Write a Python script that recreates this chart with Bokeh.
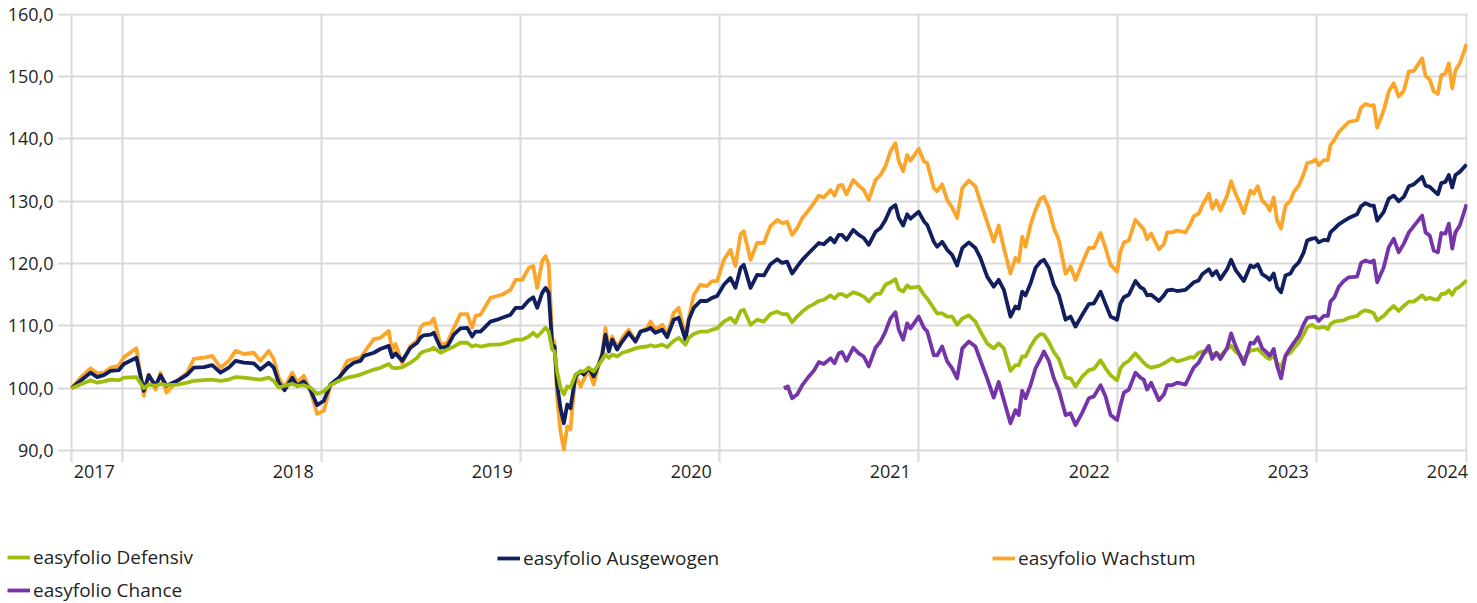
from bokeh.plotting import figure
from bokeh.layouts import column
from bokeh.models import Range1d, FixedTicker, Legend, LegendItem, ColumnDataSource
from bokeh.embed import file_html
from bokeh.resources import INLINE

# ---------------- data (decimal years, index values) ----------------
dates = [
    2017.744, 2017.789, 2017.839, 2017.873, 2017.906, 2017.940, 2017.981,
    2018.007, 2018.070, 2018.107, 2018.132, 2018.166, 2018.191, 2018.221, 2018.275, 2018.325,
    2018.358, 2018.409, 2018.451, 2018.492, 2018.534, 2018.568, 2018.610, 2018.660, 2018.693,
    2018.735, 2018.760, 2018.785, 2018.814, 2018.853, 2018.878, 2018.911, 2018.945, 2018.978,
    2019.012, 2019.045, 2019.087, 2019.129, 2019.162, 2019.196, 2019.213, 2019.263, 2019.296,
    2019.338, 2019.355, 2019.372, 2019.406, 2019.447, 2019.481, 2019.497,
    2019.514, 2019.548, 2019.564, 2019.598, 2019.632, 2019.665, 2019.698, 2019.732, 2019.757,
    2019.774, 2019.799, 2019.849, 2019.883, 2019.908, 2019.950, 2019.975,
    2020.009, 2020.042, 2020.064, 2020.084, 2020.109, 2020.126, 2020.142, 2020.159, 2020.171,
    2020.184, 2020.201, 2020.218, 2020.235, 2020.251, 2020.276, 2020.302, 2020.318, 2020.343,
    2020.368, 2020.393, 2020.411, 2020.427, 2020.444, 2020.461, 2020.486, 2020.511, 2020.544,
    2020.578, 2020.603, 2020.637, 2020.653, 2020.678, 2020.712, 2020.737, 2020.770, 2020.795,
    2020.829, 2020.846, 2020.871, 2020.904, 2020.938, 2020.963, 2020.988,
    2021.022, 2021.055, 2021.080, 2021.106, 2021.122, 2021.156, 2021.189, 2021.223, 2021.256,
    2021.290, 2021.315, 2021.340, 2021.365, 2021.390, 2021.416, 2021.449, 2021.474, 2021.499,
    2021.524, 2021.558, 2021.578, 2021.599, 2021.616, 2021.638, 2021.672, 2021.700, 2021.725,
    2021.750, 2021.784, 2021.809, 2021.834, 2021.859, 2021.884, 2021.901, 2021.923, 2021.943,
    2021.960,
    2022.001, 2022.027, 2022.044, 2022.077, 2022.094, 2022.119, 2022.144, 2022.169, 2022.194,
    2022.220, 2022.253, 2022.286, 2022.311, 2022.345, 2022.378, 2022.403, 2022.429, 2022.462,
    2022.487, 2022.504, 2022.521, 2022.538, 2022.563, 2022.588, 2022.613, 2022.630, 2022.655,
    2022.680, 2022.705, 2022.739, 2022.764, 2022.789, 2022.823, 2022.856, 2022.881, 2022.915,
    2022.940, 2022.965, 2022.998,
    2023.015, 2023.032, 2023.057, 2023.090, 2023.115, 2023.132, 2023.149, 2023.169, 2023.208,
    2023.233, 2023.250, 2023.275, 2023.300, 2023.342, 2023.367, 2023.383, 2023.408, 2023.426,
    2023.459, 2023.476, 2023.497, 2023.517, 2023.551, 2023.571, 2023.593, 2023.609, 2023.635,
    2023.668, 2023.685, 2023.705, 2023.727, 2023.752, 2023.765, 2023.785, 2023.802, 2023.822,
    2023.844, 2023.869, 2023.886, 2023.911, 2023.936, 2023.953, 2023.978, 2023.995,
    2024.011, 2024.037, 2024.057, 2024.070, 2024.090, 2024.112, 2024.137, 2024.162, 2024.204,
    2024.224, 2024.246, 2024.271, 2024.288, 2024.305, 2024.338, 2024.363, 2024.388, 2024.413,
    2024.439, 2024.464, 2024.489, 2024.531, 2024.548, 2024.569, 2024.589, 2024.610, 2024.627,
    2024.648, 2024.665, 2024.682, 2024.698, 2024.720, 2024.754,
]

wachstum = [
    100.0, 101.7, 103.2, 102.4, 102.5, 103.3, 103.6, 105.0, 106.4, 98.8, 102.2, 99.8, 102.5, 99.3,
    101.2, 102.5, 104.7, 104.9, 105.2, 103.3, 104.4, 106.0, 105.5, 105.7, 104.4, 106.0, 104.7,
    101.7, 100.1, 102.5, 100.9, 102.0, 99.6, 95.9, 96.4, 100.4, 101.4, 104.4, 104.7, 104.9, 105.7,
    107.9, 108.1, 109.2, 106.0, 107.1, 104.0, 106.8, 107.6, 109.7,
    110.3, 110.5, 111.2, 107.0, 107.3, 109.7, 111.9, 111.9, 109.7, 111.6, 111.8, 114.5, 114.8,
    115.0, 115.8, 117.4, 117.4, 119.3, 119.6, 116.1, 120.4, 121.2, 119.8, 108.1, 107.3, 98.4,
    93.1, 90.2, 93.9, 93.4, 102.2, 100.3, 101.4, 103.0, 100.6, 103.8, 105.7, 109.7, 106.2, 108.3,
    106.5, 108.1, 109.4, 107.5, 109.1, 109.7, 110.7, 109.4, 110.2, 108.6, 112.1, 112.9, 108.3,
    111.3, 115.0, 116.6, 116.4, 117.2, 117.2, 120.6, 122.2, 119.6, 124.7, 125.2, 120.6, 123.3,
    123.3, 126.0,
    127.0, 126.5, 126.7, 124.6, 125.7, 127.3, 128.6, 129.7, 130.9, 130.6, 131.8, 130.9, 132.5,
    132.6, 131.1, 133.4, 132.5, 131.8, 130.2, 133.4, 134.2, 135.6, 138.0, 139.3, 136.4, 134.8,
    137.4, 136.5,
    138.4, 136.4, 136.1, 132.1, 131.6, 132.7, 130.2, 129.0, 127.3, 132.1, 133.3, 132.4, 129.9,
    126.7, 123.5, 126.1, 122.5, 118.4, 120.9, 120.3, 124.3, 122.7, 126.2, 128.6, 130.4, 130.7,
    128.9, 125.7, 123.8, 118.4, 119.5, 117.4, 120.1, 122.5, 122.5, 124.9, 122.5, 119.8, 118.7,
    121.9,
    123.4, 123.7, 127.0, 126.1, 125.5, 123.9, 124.8, 122.3, 123.1, 125.0, 125.0, 125.3, 125.0,
    126.4, 127.6, 128.0, 129.3, 131.2, 128.8, 130.1, 128.5, 130.9, 133.2, 131.2, 130.1, 128.1,
    131.7, 131.2, 132.4, 130.1, 129.3, 128.5, 130.6, 126.9, 125.6, 129.3, 130.1, 131.5, 132.5,
    134.4, 136.1, 136.3, 136.7,
    135.8, 136.6, 136.6, 139.0, 139.8, 141.1, 141.9, 142.7, 143.0, 145.0, 145.6, 145.3, 145.4,
    141.8, 144.6, 147.6, 148.9, 146.8, 147.7, 150.8, 150.9, 152.9, 150.1, 149.5, 147.6, 147.2,
    150.2, 150.5, 152.1, 148.1, 151.0, 152.1, 155.2,
]

ausgewogen = [
    100.0, 101.2, 102.5, 101.8, 102.1, 102.8, 102.9, 103.9, 104.9, 99.6, 102.1, 100.4, 102.1, 100.4,
    101.2, 102.2, 103.3, 103.4, 103.7, 102.5, 103.3, 104.4, 104.1, 104.0, 103.0, 104.1, 103.3,
    100.9, 99.7, 101.7, 100.4, 101.1, 99.7, 97.3, 98.0, 100.6, 101.7, 103.3, 104.1, 104.4, 105.2,
    105.7, 106.3, 106.8, 105.0, 105.6, 104.4, 106.5, 107.3, 108.1,
    108.5, 108.6, 108.9, 106.5, 106.7, 108.6, 109.6, 109.7, 108.3, 109.1, 109.1, 110.7, 111.0,
    111.3, 111.8, 112.9, 112.9, 114.1, 114.6, 112.9, 115.3, 116.1, 115.3, 107.0, 106.7, 100.6,
    96.8, 94.4, 97.4, 96.8, 101.9, 102.7, 102.2, 103.3, 101.9, 103.8, 105.4, 108.6, 105.9, 107.8,
    106.2, 107.5, 108.9, 107.5, 109.1, 109.4, 109.7, 108.9, 109.4, 108.2, 111.0, 111.3, 107.8,
    111.0, 112.9, 114.0, 114.0, 114.5, 114.8, 116.6, 117.7, 116.1, 119.3, 119.8, 116.1, 118.2,
    118.1, 119.9,
    120.7, 120.1, 120.3, 118.4, 119.5, 120.6, 121.7, 122.5, 123.3, 123.1, 124.1, 123.4, 124.6,
    124.6, 123.8, 125.4, 124.6, 124.1, 123.0, 125.1, 125.7, 127.0, 128.8, 129.4, 127.3, 126.1,
    127.9, 127.2,
    128.3, 126.8, 126.2, 123.5, 122.7, 123.5, 122.2, 121.4, 119.7, 122.5, 123.4, 122.5, 120.9,
    117.9, 116.3, 117.4, 115.8, 111.5, 113.1, 112.8, 115.5, 114.9, 116.8, 119.3, 120.3, 120.6,
    119.3, 116.6, 115.0, 111.0, 111.5, 109.9, 111.8, 113.5, 113.6, 115.5, 113.5, 111.5, 111.0,
    113.6,
    114.6, 115.0, 117.2, 116.2, 115.9, 114.9, 115.0, 114.0, 114.9, 115.7, 115.8, 115.6, 115.8,
    116.5, 117.0, 117.3, 118.3, 119.1, 118.1, 118.8, 117.5, 119.1, 120.6, 119.0, 118.3, 117.2,
    119.7, 119.4, 119.9, 118.3, 117.8, 117.4, 118.4, 116.2, 115.4, 118.1, 118.4, 119.4, 120.2,
    121.8, 123.7, 124.0, 124.1,
    123.4, 123.8, 123.7, 125.0, 125.6, 126.3, 126.8, 127.3, 127.9, 129.2, 129.7, 129.3, 129.3,
    126.9, 128.3, 130.4, 130.9, 130.0, 130.7, 132.4, 132.7, 133.9, 132.5, 132.3, 131.7, 131.1,
    132.9, 133.1, 134.2, 132.2, 134.2, 134.7, 135.9,
]

defensiv = [
    100.0, 100.6, 101.3, 100.9, 101.1, 101.4, 101.3, 101.7, 101.8, 100.0, 100.6, 100.4, 100.7, 100.5,
    100.6, 100.9, 101.2, 101.3, 101.4, 101.2, 101.4, 101.8, 101.7, 101.5, 101.4, 101.7, 101.2,
    100.1, 100.4, 100.7, 100.4, 100.5, 100.1, 99.1, 99.5, 100.5, 101.2, 101.7, 101.9, 102.2, 102.4,
    103.0, 103.3, 103.9, 103.3, 103.2, 103.4, 104.1, 104.9, 105.6,
    105.9, 106.2, 106.5, 105.7, 106.2, 106.7, 107.3, 107.3, 106.7, 106.9, 106.7, 107.0, 107.0,
    107.1, 107.5, 107.8, 107.8, 108.3, 108.9, 108.3, 109.1, 109.7, 109.1, 106.2, 105.9, 102.7,
    100.1, 99.0, 100.3, 100.1, 102.2, 102.7, 102.7, 103.3, 102.7, 103.8, 104.6, 105.4, 104.9, 105.4,
    105.1, 105.7, 106.0, 106.4, 106.6, 106.7, 106.9, 106.7, 107.0, 106.6, 107.6, 108.1, 107.0,
    108.1, 108.7, 109.1, 109.1, 109.4, 109.6, 110.7, 111.3, 110.5, 112.4, 112.6, 110.2, 111.0,
    110.7, 111.9,
    112.3, 111.9, 111.9, 110.6, 111.5, 112.3, 113.1, 113.5, 114.0, 114.2, 114.9, 114.4, 115.1,
    115.1, 114.7, 115.4, 115.1, 114.7, 113.9, 115.1, 115.2, 116.6, 117.0, 117.5, 115.9, 115.5,
    116.5, 116.1,
    116.3, 115.0, 114.4, 112.8, 112.0, 112.0, 111.5, 111.5, 110.2, 111.2, 111.7, 110.7, 109.1,
    107.2, 106.4, 107.2, 106.4, 102.8, 103.7, 103.7, 105.1, 105.1, 106.7, 108.0, 108.7, 108.6,
    107.4, 105.8, 104.7, 101.7, 101.6, 100.3, 101.9, 102.9, 103.1, 104.5, 103.2, 102.1, 101.3,
    103.2,
    103.9, 104.4, 105.6, 104.7, 104.1, 103.6, 103.3, 103.6, 104.0, 104.3, 104.8, 104.3, 104.7,
    105.0, 104.9, 105.7, 105.9, 105.9, 105.4, 105.7, 105.2, 106.3, 106.8, 105.9, 105.5, 104.7,
    106.1, 106.1, 106.3, 105.6, 104.9, 104.7, 105.2, 104.1, 103.4, 105.2, 105.7, 106.4, 107.3,
    108.7, 109.8, 110.2, 109.8,
    109.7, 109.9, 109.5, 110.3, 110.7, 110.8, 110.9, 111.3, 111.6, 112.2, 112.5, 112.3, 112.0,
    110.9, 111.6, 112.5, 113.2, 112.4, 113.2, 113.9, 113.9, 114.9, 114.3, 114.5, 114.3, 114.2,
    115.1, 115.2, 115.7, 115.0, 115.9, 116.3, 117.3,
]

chance_dates = [2021.323, 2021.343] + dates[dates.index(2021.365):]
chance = [
    100.0, 100.3, 98.4, 99.0, 100.5, 101.9, 102.8, 104.2, 103.9, 104.8, 104.0, 105.6, 105.8,
    104.4, 106.5, 105.6, 105.1, 103.5, 106.5, 107.5, 109.1, 111.2, 112.2, 109.4, 107.8, 110.4,
    109.6,
    111.5, 109.7, 109.1, 105.3, 105.3, 106.7, 104.3, 103.2, 101.6, 106.4, 107.5, 106.7, 104.5,
    101.6, 98.5, 101.0, 98.1, 94.4, 96.5, 95.7, 99.6, 98.4, 100.5, 103.2, 104.7, 105.9, 104.4,
    101.6, 99.7, 95.7, 96.0, 94.1, 96.1, 98.4, 98.7, 100.5, 98.7, 95.7, 94.9,
    97.3,
    99.3, 99.8, 102.5, 101.7, 101.4, 99.8, 100.9, 98.1, 99.0, 100.5, 100.5, 100.9, 100.6, 102.3,
    103.3, 104.1, 105.2, 106.8, 104.7, 105.7, 104.7, 106.5, 108.8, 106.8, 105.7, 103.9, 107.3,
    107.2, 108.2, 106.4, 105.7, 105.2, 106.3, 103.6, 101.6, 105.2, 106.5, 107.3, 108.4, 110.3,
    111.3, 111.4, 111.5,
    110.8, 111.6, 111.6, 113.9, 114.6, 116.3, 117.2, 117.8, 117.9, 120.1, 120.5, 120.2, 120.5,
    117.0, 119.4, 122.6, 124.0, 121.8, 123.2, 125.0, 126.0, 127.7, 125.0, 124.5, 122.1, 121.8,
    124.9, 124.8, 126.4, 122.4, 125.0, 126.1, 129.5,
]

series_names = ["easyfolio Defensiv", "easyfolio Ausgewogen", "easyfolio Wachstum", "easyfolio Chance"]
year_lines = [2018, 2019, 2020, 2021, 2022, 2023, 2024]
year_labels = ["2017", "2018", "2019", "2020", "2021", "2022", "2023", "2024"]
year_label_pos = [2017.858, 2018.858, 2019.858, 2020.858, 2021.858, 2022.858, 2023.858, 2024.658]
y_ticks = [90, 100, 110, 120, 130, 140, 150, 160]

assert len(dates) == len(wachstum) == len(ausgewogen) == len(defensiv)
assert len(chance_dates) == len(chance)

# ---------------- styling ----------------
C_DEF = "#A0BE10"
C_AUS = "#111F5E"
C_WAC = "#FBA52A"
C_CHA = "#7534A8"
GRID = "#D9D9D9"
TXT = "#1F1F1F"
FONT = "Open Sans"
LW = 3.8
W = 1475

p = figure(width=W, height=490, output_backend="svg", toolbar_location=None,
           x_range=Range1d(2017.6734, 2024.7588), y_range=Range1d(88.1, 160.1),
           min_border_left=57, min_border_right=8, min_border_top=13, min_border_bottom=28)
p.frame_align = False
p.outline_line_color = None
p.background_fill_color = "white"
p.border_fill_color = "white"

p.xgrid.ticker = FixedTicker(ticks=[dates[0]] + year_lines + [dates[-1]])
p.ygrid.ticker = FixedTicker(ticks=y_ticks)
p.grid.grid_line_color = GRID
p.grid.grid_line_width = 2

p.xaxis.ticker = FixedTicker(ticks=year_label_pos)
p.xaxis.major_label_overrides = {pos: lab for pos, lab in zip(year_label_pos, year_labels)}
p.yaxis.ticker = FixedTicker(ticks=y_ticks)
p.yaxis.major_label_overrides = {v: f"{v:.1f}".replace(".", ",") for v in y_ticks}

for ax in (p.xaxis, p.yaxis):
    ax.axis_line_color = None
    ax.major_tick_line_color = None
    ax.minor_tick_line_color = None
    ax.major_tick_out = 0
    ax.major_tick_in = 0
    ax.minor_tick_out = 0
    ax.major_label_text_font = FONT
    ax.major_label_text_font_size = "18px"
    ax.major_label_text_color = TXT
p.xaxis.major_label_standoff = 2
p.yaxis.major_label_standoff = 4

src_main = ColumnDataSource(dict(t=dates, d=defensiv, a=ausgewogen, w=wachstum))
src_ch = ColumnDataSource(dict(t=chance_dates, c=chance))

p.line("t", "w", source=src_main, line_color=C_WAC, line_width=LW, line_join="round")
p.line("t", "a", source=src_main, line_color=C_AUS, line_width=LW, line_join="round")
p.line("t", "d", source=src_main, line_color=C_DEF, line_width=LW, line_join="round")
p.line("t", "c", source=src_ch, line_color=C_CHA, line_width=LW, line_join="round")

# ---------------- legend strip below the chart ----------------
# same series, drawn against a 0..1 range so only their legend swatches show
lg_fig = figure(width=W, height=113, output_backend="svg", toolbar_location=None,
                x_range=Range1d(0, 1), y_range=Range1d(0, 1),
                x_axis_location=None, y_axis_location=None,
                min_border_left=0, min_border_right=0, min_border_top=0, min_border_bottom=0)
lg_fig.frame_align = False
lg_fig.outline_line_color = None
lg_fig.grid.visible = False
lg_fig.background_fill_color = "white"
lg_fig.border_fill_color = "white"

k_def = lg_fig.line("t", "d", source=src_main, line_color=C_DEF, line_width=LW)
k_aus = lg_fig.line("t", "a", source=src_main, line_color=C_AUS, line_width=LW)
k_wac = lg_fig.line("t", "w", source=src_main, line_color=C_WAC, line_width=LW)
k_cha = lg_fig.line("t", "c", source=src_ch, line_color=C_CHA, line_width=LW)


def make_legend(items, loc):
    lg = Legend(items=items, location=loc, orientation="vertical")
    lg.label_text_font = FONT
    lg.label_text_font_size = "19px"
    lg.label_text_color = TXT
    lg.glyph_width = 23
    lg.glyph_height = 20
    lg.label_height = 20
    lg.label_standoff = 3
    lg.spacing = 7
    lg.padding = 0
    lg.margin = 0
    lg.border_line_color = None
    lg.background_fill_alpha = 0
    return lg


lg_fig.add_layout(make_legend([LegendItem(label=series_names[0], renderers=[k_def]),
                               LegendItem(label=series_names[3], renderers=[k_cha])], (7, 0)))
lg_fig.add_layout(make_legend([LegendItem(label=series_names[1], renderers=[k_aus])], (497, 32)))
lg_fig.add_layout(make_legend([LegendItem(label=series_names[2], renderers=[k_wac])], (992, 32)))

open("out.html", "w").write(file_html(column(p, lg_fig, spacing=0), INLINE))
